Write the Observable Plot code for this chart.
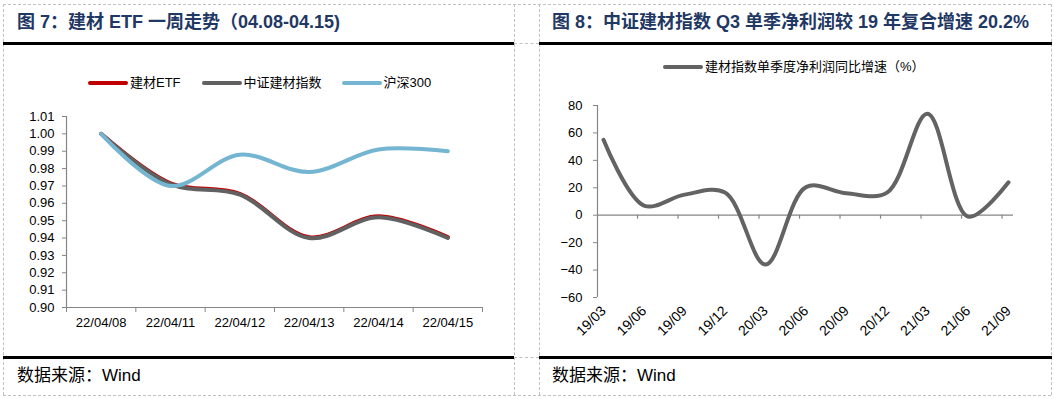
<!DOCTYPE html>
<html><head><meta charset="utf-8">
<script src="https://cdn.jsdelivr.net/npm/d3@7"></script>
<script src="https://cdn.jsdelivr.net/npm/@observablehq/plot@0.6"></script>
<style>
body{margin:0;background:#fff;}
#page{position:relative;width:1054px;height:399px;overflow:hidden;font-family:"Liberation Sans","Noto Sans CJK SC",sans-serif;}
.dh{position:absolute;height:0;border-top:1px dashed #c0c0c0;}
.dv{position:absolute;width:0;border-left:1px dashed #c0c0c0;}
.bk{position:absolute;height:3px;background:#000;}
.title{position:absolute;font-weight:bold;font-size:18px;line-height:20px;color:#1F3864;white-space:nowrap;}
.foot{position:absolute;font-size:17px;line-height:20px;color:#000;white-space:nowrap;font-family:"Liberation Sans","Noto Sans CJK SC",sans-serif;}
.leg{position:absolute;display:flex;align-items:center;font-size:13px;line-height:18px;color:#000;white-space:nowrap;font-family:"Liberation Sans","Noto Sans CJK SC",sans-serif;}
.sw{width:40px;height:4px;border-radius:2px;margin-right:2px;}
.chart{position:absolute;}
</style></head>
<body><div id="page">
<div class="dh" style="left:3px;top:4px;width:1048px"></div>
<div class="dh" style="left:3px;top:395px;width:1048px"></div>
<div class="dh" style="left:514px;top:43px;width:25px"></div>
<div class="dh" style="left:514px;top:357px;width:25px"></div>
<div class="dv" style="left:3px;top:4px;height:391px"></div>
<div class="dv" style="left:514px;top:4px;height:391px"></div>
<div class="dv" style="left:539px;top:4px;height:391px"></div>
<div class="dv" style="left:1051px;top:4px;height:391px"></div>
<div class="bk" style="left:3px;top:42px;width:511px"></div>
<div class="bk" style="left:539px;top:42px;width:513px"></div>
<div class="bk" style="left:3px;top:356px;width:511px"></div>
<div class="bk" style="left:539px;top:356px;width:513px"></div>
<div class="title" style="left:17px;top:12px">图 7：建材 ETF 一周走势（04.08-04.15)</div>
<div class="title" style="left:552px;top:12px">图 8：中证建材指数 Q3 单季净利润较 19 年复合增速 20.2%</div>
<div class="foot" style="left:17px;top:366px">数据来源：Wind</div>
<div class="foot" style="left:552px;top:366px">数据来源：Wind</div>
<div id="legL"></div>
<div id="legR"></div>
<div id="left" class="chart" style="left:0px;top:100px"></div>
<div id="right" class="chart" style="left:527px;top:90px"></div>
</div>
<script>
// ---- Left chart data ----
const dates = ["22/04/08","22/04/11","22/04/12","22/04/13","22/04/14","22/04/15"];
const etfValues = [1.000, 0.9715, 0.9655, 0.9405, 0.9525, 0.9405];
const csiValues = [1.000, 0.971, 0.965, 0.940, 0.952, 0.940];
const hs300Values = [1.000, 0.970, 0.988, 0.978, 0.991, 0.990];
const yTicksLeft = [0.90,0.91,0.92,0.93,0.94,0.95,0.96,0.97,0.98,0.99,1.00,1.01];
const seriesLeft = ["建材ETF","中证建材指数","沪深300"];
const colorsLeft = ["#C00000","#616161","#74B5D1"];

// ---- Right chart data ----
const quarters = ["19/03","19/06","19/09","19/12","20/03","20/06","20/09","20/12","21/03","21/06","21/09"];
const growth = [55, 7, 15, 16.5, -36, 20.5, 16, 16.5, 74, -1, 24];
const yTicksRight = [-60,-40,-20,0,20,40,60,80];
const seriesRight = "建材指数单季度净利润同比增速（%）";
const colorRight = "#636363";

const axisColor = "#868686";
const baseStyle = {background:"transparent", fontSize:"13px", fontFamily:"'Liberation Sans', Arial, sans-serif", color:"#000", overflow:"visible"};

// legends
function legend(el, left, top, items){
  el.className = "leg";
  el.style.left = left + "px"; el.style.top = top + "px";
  items.forEach(([name,color,gap]) => {
    const sw = document.createElement("div"); sw.className = "sw"; sw.style.background = color;
    const tx = document.createElement("span"); tx.textContent = name; tx.style.marginRight = gap + "px";
    el.appendChild(sw); el.appendChild(tx);
  });
}
legend(document.getElementById("legL"), 88, 74, [[seriesLeft[0],colorsLeft[0],21],[seriesLeft[1],colorsLeft[1],20],[seriesLeft[2],colorsLeft[2],0]]);
legend(document.getElementById("legR"), 663, 58, [[seriesRight,colorRight,0]]);

// left chart
const idxL = dates.map((d,i)=>i);
const boundsL = d3.range(-0.5, dates.length, 1);
const rowsL = (vals)=>vals.map((v,i)=>({i, v}));
const left = Plot.plot({
  width:500, height:240, marginLeft:66, marginRight:18, marginTop:16, marginBottom:33,
  x:{type:"linear", domain:[-0.5, dates.length-0.5]},
  y:{domain:[0.90,1.01]},
  style: baseStyle,
  marks:[
    Plot.ruleX([-0.5], {stroke:axisColor, strokeWidth:1.2}),
    Plot.ruleY([0.90], {stroke:axisColor, strokeWidth:1.2}),
    Plot.axisY({ticks:yTicksLeft, tickFormat:d=>d.toFixed(2), tickSize:4, tickPadding:8, stroke:axisColor, label:null}),
    Plot.axisX({ticks:boundsL, tickFormat:()=>"", tickSize:5, stroke:axisColor, label:null}),
    Plot.axisX({ticks:idxL, tickFormat:i=>dates[i], tickSize:0, tickPadding:10, label:null}),
    Plot.line(rowsL(etfValues), {x:"i", y:"v", stroke:colorsLeft[0], strokeWidth:4, curve:"catmull-rom"}),
    Plot.line(rowsL(csiValues), {x:"i", y:"v", stroke:colorsLeft[1], strokeWidth:4, curve:"catmull-rom"}),
    Plot.line(rowsL(hs300Values), {x:"i", y:"v", stroke:colorsLeft[2], strokeWidth:4, curve:"catmull-rom"})
  ]
});
document.getElementById("left").appendChild(left);

// right chart
const idxR = quarters.map((d,i)=>i);
const tickShift = 0.84;
const ticksR = d3.range(0, quarters.length-1).map(i=>i+tickShift);
const right = Plot.plot({
  width:527, height:260, marginLeft:70, marginRight:41, marginTop:15, marginBottom:53,
  x:{type:"linear", domain:[-0.148, quarters.length-1+0.123]},
  y:{domain:[-60,80]},
  style: baseStyle,
  marks:[
    Plot.ruleX([-0.148], {stroke:axisColor, strokeWidth:1.2}),
    Plot.ruleY([0], {stroke:axisColor, strokeWidth:1.2}),
    Plot.ruleX(ticksR, {x:d=>d, y1:()=>0, y2:()=>0, insetBottom:-4, stroke:axisColor, strokeWidth:1.2}),
    Plot.axisY({ticks:yTicksRight, tickSize:4, tickPadding:11, stroke:axisColor, label:null}),
    Plot.axisX({ticks:idxR, tickFormat:i=>quarters[i], tickSize:0, tickPadding:11, tickRotate:-45, fontSize:14, label:null}),
    Plot.line(growth.map((v,i)=>({i, v})), {x:"i", y:"v", stroke:colorRight, strokeWidth:4, curve:"catmull-rom"})
  ]
});
document.getElementById("right").appendChild(right);
</script>
</body></html>
